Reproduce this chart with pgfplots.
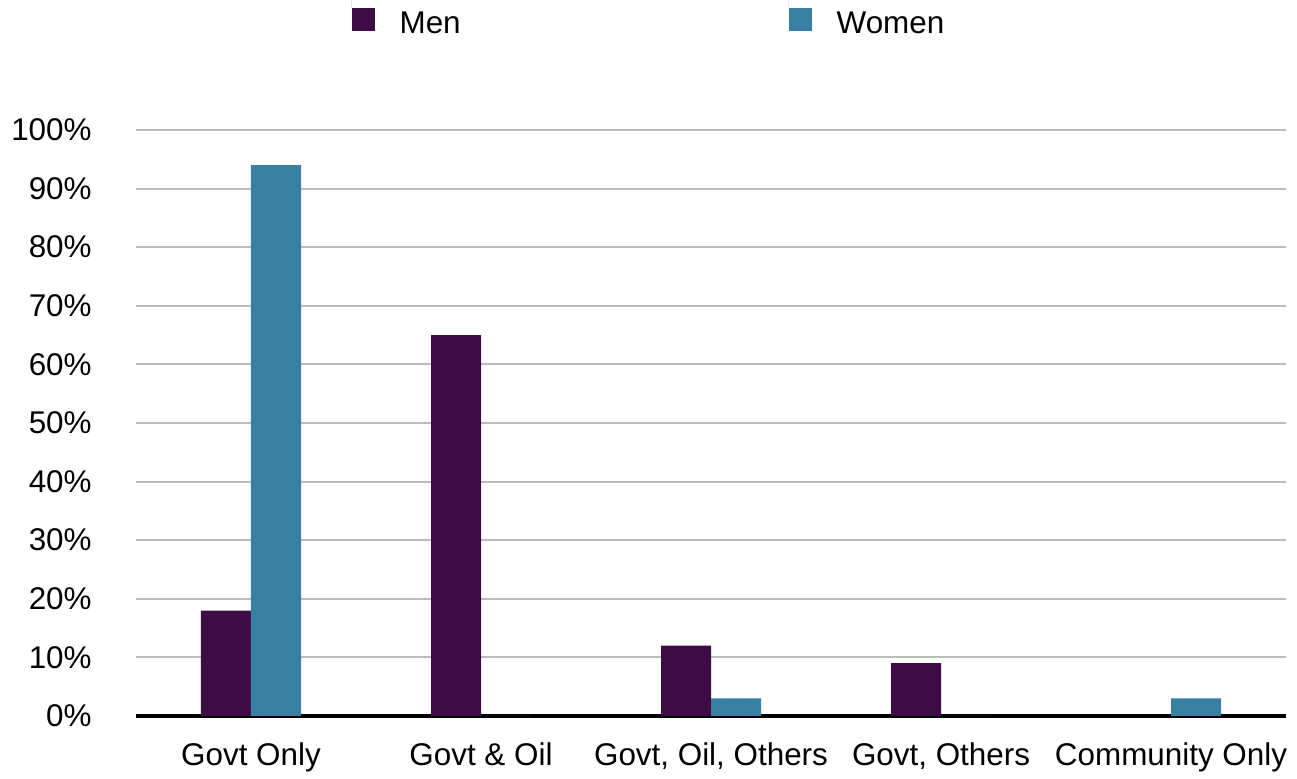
\documentclass[border=0pt]{standalone}
\usepackage{fontspec}
\setmainfont{Liberation Sans}
\usepackage{pgfplots}
\pgfplotsset{compat=1.18}
\definecolor{menc}{HTML}{3D0C45}
\definecolor{womenc}{HTML}{3780A1}
\definecolor{gridc}{HTML}{BBBBBB}
\begin{document}
\begin{tikzpicture}
\useasboundingbox (-68pt,-31.5pt) rectangle (580.5pt,358pt);
\begin{axis}[
  scale only axis,
  width=575pt, height=293pt,
  xmin=-0.5, xmax=4.5, ymin=0, ymax=100,
  ybar=0pt, bar width=25pt,
  axis x line*=bottom, axis y line*=left,
  x axis line style={black, line width=1.6pt},
  y axis line style={draw=none},
  major tick length=0pt,
  tick style={draw=none},
  ymajorgrids, grid style={gridc, line width=1pt},
  xtick={0,1,2,3,4},
  xticklabels={Govt Only, Govt \& Oil, {Govt, Oil, Others}, {Govt, Others}, Community Only},
  ytick={0,10,20,30,40,50,60,70,80,90,100},
  yticklabels={0\%,10\%,20\%,30\%,40\%,50\%,60\%,70\%,80\%,90\%,100\%},
  yticklabel style={inner sep=0pt, anchor=east, xshift=-22pt, font=\fontsize{15.7}{18}\selectfont},
  xticklabel style={inner sep=0pt, anchor=base, yshift=-25pt, font=\fontsize{15.7}{18}\selectfont},
  legend columns=2,
  legend style={draw=none, fill=none, at={(rel axis cs:0.4452,1.19)}, anchor=center,
    font=\fontsize{15.7}{18}\selectfont, nodes={inner sep=0pt},
    /tikz/every odd column/.append style={column sep=12.5pt},
    /tikz/every even column/.append style={column sep=164pt}},
  legend image code/.code={\draw[#1,draw=none] (0pt,-3.5pt) rectangle (11.5pt,8pt); \path (0pt,8pt) -- (0pt,12pt);},
]
\addplot[fill=menc, draw=none] coordinates {(0,18) (1,65) (2,12) (3,9) (4,0)};
\addplot[fill=womenc, draw=none] coordinates {(0,94) (1,0) (2,3) (3,0) (4,3)};
\legend{Men, Women}
\end{axis}
\end{tikzpicture}
\end{document}
